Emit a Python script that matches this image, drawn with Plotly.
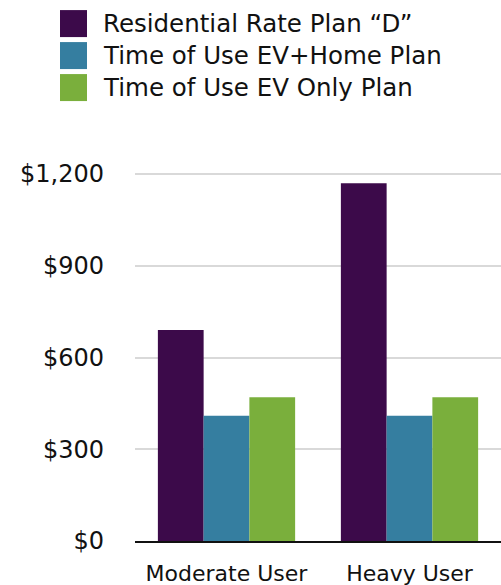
import plotly.graph_objects as go

categories = ["Moderate User", "Heavy User"]
series_names = ["Residential Rate Plan \u201cD\u201d", "Time of Use EV+Home Plan", "Time of Use EV Only Plan"]
series_values = [
    [690, 1170],
    [410, 410],
    [470, 470],
]
colors = ["#3c0a4a", "#357ea0", "#7aaf3c"]
tick_vals = [0, 300, 600, 900, 1200]
tick_text = ["$0", "$300", "$600", "$900", "$1,200"]

W, H = 501, 585
YMAX = 1210
B = 44
ph = 367 * YMAX / 1200
L, R, T = 135, 0, H - B - ph
FONT = "DejaVu Sans"

fig = go.Figure()
for name, vals, c in zip(series_names, series_values, colors):
    fig.add_trace(go.Bar(x=categories, y=vals, name=name, marker=dict(color=c, line=dict(width=0)),
                         showlegend=False))

pw = W - L - R
def px2paper(x, y):
    return (x - L) / pw, (H - B - y) / ph

shapes = []
annotations = []
for i, (name, c) in enumerate(zip(series_names, colors)):
    top = 10 + 32 * i
    x0, y0 = px2paper(60, top + 27)
    x1, y1 = px2paper(87, top)
    shapes.append(dict(type="rect", xref="paper", yref="paper", x0=x0, x1=x1, y0=y0, y1=y1,
                       fillcolor=c, line=dict(width=0)))
    ax, ay = px2paper(101, top + 13.5)
    annotations.append(dict(xref="paper", yref="paper", x=ax, y=ay, text=name, showarrow=False,
                            xanchor="left", yanchor="middle", font=dict(family=FONT, size=24.5, color="#111")))

fig.update_layout(
    width=W, height=H,
    margin=dict(l=L, r=R, t=T, b=B, pad=0),
    barmode="group", bargap=0.25, bargroupgap=0,
    plot_bgcolor="white", paper_bgcolor="white",
    shapes=shapes, annotations=annotations,
    showlegend=False,
    font=dict(family=FONT, size=22, color="#111"),
)
fig.update_yaxes(range=[0, YMAX], tickvals=tick_vals, ticktext=tick_text,
                 showgrid=True, gridcolor="#d9d9d9", gridwidth=2,
                 zeroline=False, showline=False, ticks="", ticklabelstandoff=30,
                 tickfont=dict(family=FONT, size=24, color="#111"))
fig.update_xaxes(showline=True, linecolor="#111", linewidth=2, ticks="",
                 ticklabelstandoff=12, tickfont=dict(family=FONT, size=22, color="#111"))

fig.write_html("out.html", config={"displayModeBar": False},
               post_script="document.body.style.margin='0';")
